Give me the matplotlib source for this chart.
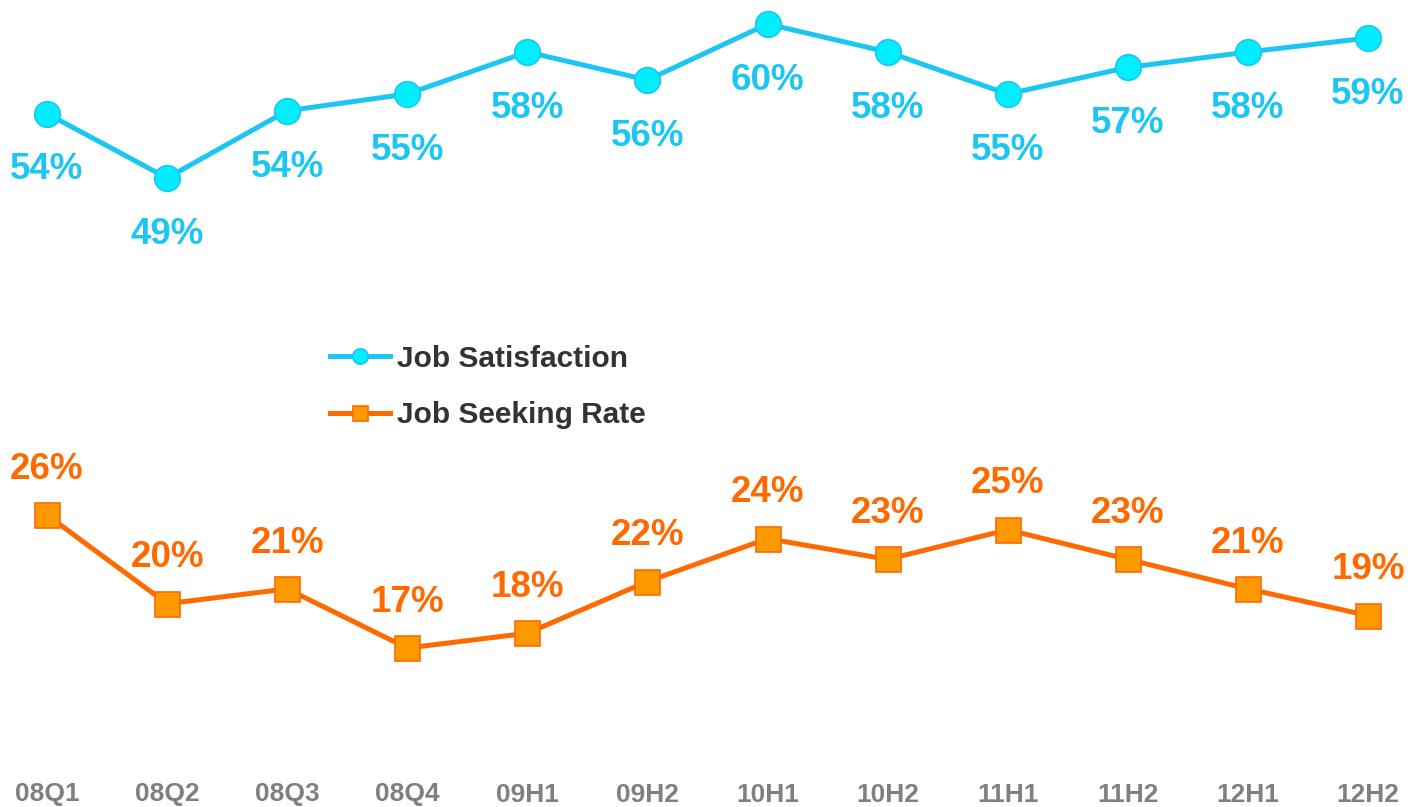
import matplotlib.pyplot as plt
import numpy as np

periodos = ["08Q1", "08Q2", "08Q3", "08Q4", "09H1", "09H2",
            "10H1", "10H2", "11H1", "11H2", "12H1", "12H2"]
satisfaccion = [53.6, 49.0, 53.8, 55.0, 58.0, 56.0, 60.0, 58.0, 55.0, 56.9, 58.0, 59.0]
busqueda = [26.0, 20.0, 21.0, 17.0, 18.0, 21.5, 24.4, 23.0, 25.0, 23.0, 21.0, 19.2]

cian_linea = "#1CC6F2"
cian_relleno = "#00EEFF"
naranja_linea = "#FF6A00"
naranja_relleno = "#FF9900"

plt.rcParams["font.family"] = ["Liberation Sans", "DejaVu Sans"]
plt.rcParams["font.weight"] = "bold"

fig = plt.figure(figsize=(14.12, 8.07), dpi=100)
ax1 = fig.add_axes([0, 37 / 807, 1, 770 / 807])
ax2 = ax1.twinx()

x = np.arange(len(periodos))

l1, = ax1.plot(x, satisfaccion, color=cian_linea, lw=3.6, marker="o", ms=18.5,
               mfc=cian_relleno, mec=cian_linea, mew=1.2, label="Job Satisfaction")
l2, = ax2.plot(x, busqueda, color=naranja_linea, lw=3.6, marker="s", ms=18,
               mfc=naranja_relleno, mec=naranja_linea, mew=1.2, label="Job Seeking Rate")

# etiquetas de valor
for xi, v in zip(x, satisfaccion):
    ax1.annotate(f"{v:.0f}%", (xi, v), xytext=(0, -40.5), textcoords="offset points",
                 ha="center", va="center", fontsize=26.5, fontweight="bold", color=cian_linea)
for xi, v in zip(x, busqueda):
    ax2.annotate(f"{v:.0f}%", (xi, v), xytext=(0, 33), textcoords="offset points",
                 ha="center", va="center", fontsize=26.5, fontweight="bold", color=naranja_linea)

# escalas (pixeles de la imagen original)
ax1.set_xlim(-47 / 120.09, 11 + 44 / 120.09)
ax1.set_ylim(60 - 746 / 14, 60 + 24 / 14)
ax2.set_ylim(26 - 255 / 14.78, 26 + 515 / 14.78)

ax1.set_xticks(x)
ax1.set_xticklabels(periodos, fontsize=19, fontweight="bold", color="#808080")
ax1.tick_params(axis="x", length=0, pad=9)
for ax in (ax1, ax2):
    ax.set_yticks([])
    for s in ax.spines.values():
        s.set_visible(False)
ax1.patch.set_visible(False)

leg = fig.legend(handles=[l1, l2], loc="center left", bbox_to_anchor=(330 / 1412, 1 - 387 / 807),
                 frameon=False, fontsize=21.5, handlelength=2.0, handletextpad=0.25,
                 labelspacing=0.95, borderpad=0, borderaxespad=0, markerscale=0.6)
for t in leg.get_texts():
    t.set_color("#333333")
    t.set_fontweight("bold")

fig.savefig("out.png", dpi=100)
